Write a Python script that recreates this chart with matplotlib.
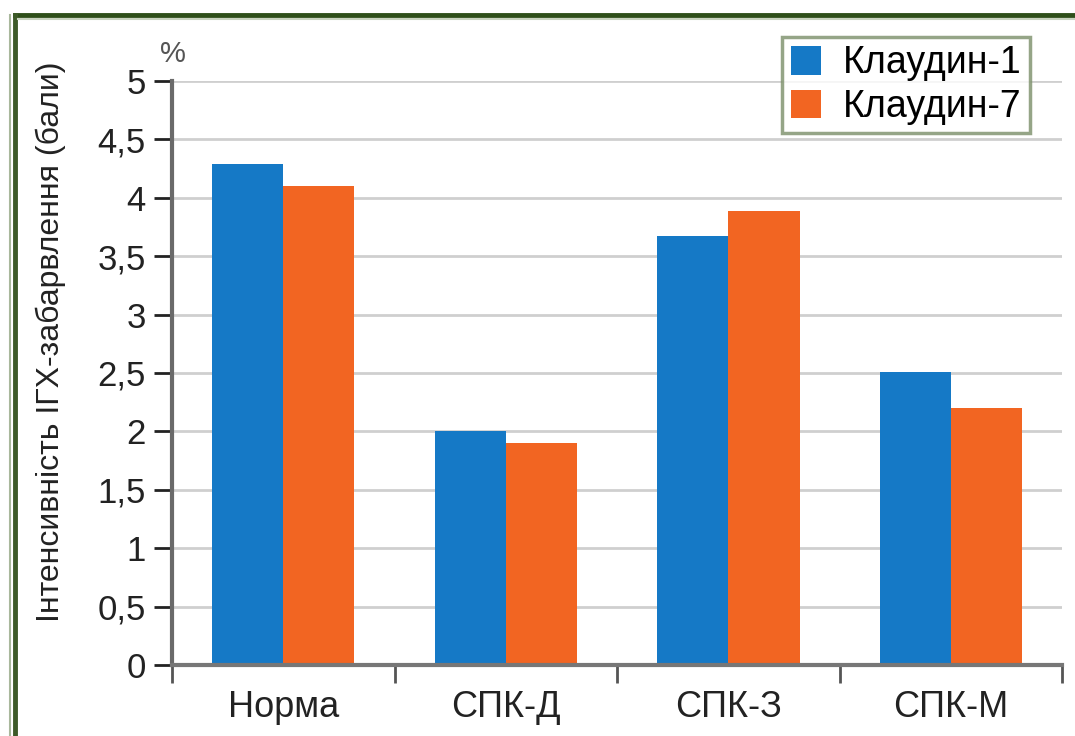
import matplotlib
matplotlib.use("Agg")
import matplotlib.pyplot as plt
import numpy as np
from matplotlib.lines import Line2D

categories = ["Норма", "СПК-Д", "СПК-З", "СПК-М"]
claudin1 = [4.29, 2.0, 3.67, 2.51]
claudin7 = [4.10, 1.90, 3.89, 2.20]
series_names = ["Клаудин-1", "Клаудин-7"]
yticks = [0, 0.5, 1, 1.5, 2, 2.5, 3, 3.5, 4, 4.5, 5]
ytick_labels = ["0", "0,5", "1", "1,5", "2", "2,5", "3", "3,5", "4", "4,5", "5"]

plt.rcParams['font.family'] = ['Liberation Sans', 'DejaVu Sans']

fig = plt.figure(figsize=(10.75, 7.36), dpi=100)
ax = fig.add_axes([0.160, 0.0965, 0.828, 0.7935])

x = np.arange(len(categories))
w = 0.32
blue = "#1579c6"
orange = "#f26522"
ax.bar(x - w/2, claudin1, w, color=blue, label=series_names[0], zorder=3)
ax.bar(x + w/2, claudin7, w, color=orange, label=series_names[1], zorder=3)

ax.set_xlim(-0.5, len(categories) - 0.5)
ax.set_ylim(0, 5)
ax.set_yticks(yticks)
ax.set_yticklabels(ytick_labels, fontsize=25, color="#222222")
ax.yaxis.grid(True, color="#cfcfcf", linewidth=2, zorder=0)
ax.set_axisbelow(True)

ax.set_xticks(x)
ax.set_xticklabels(categories, fontsize=26, color="#222222")
ax.tick_params(axis='x', length=0, pad=18)
ax.set_xticks(np.arange(-0.5, len(categories), 1), minor=True)
ax.tick_params(axis='x', which='minor', length=13, width=2, color="#555555", direction='out')
ax.tick_params(axis='y', length=13, width=2, color="#222222", pad=6)

for s in ["top", "right"]:
    ax.spines[s].set_visible(False)
ax.spines["left"].set_color("#6a6a6a")
ax.spines["left"].set_linewidth(3)
ax.spines["bottom"].set_color("#777777")
ax.spines["bottom"].set_linewidth(3)
ax.spines["bottom"].set_zorder(4)

fig.text(0.0474, 0.535, "Інтенсивність ІГХ-забарвлення (бали)", fontsize=23,
         color="#222222", rotation=90, ha="center", va="center")
fig.text(0.161, 0.927, "%", fontsize=21, color="#555555", ha="center", va="center")

leg = ax.legend(loc="upper right", bbox_to_anchor=(0.964, 1.075), borderaxespad=0,
                fontsize=27, frameon=True, fancybox=False, handlelength=0.8,
                handleheight=0.8, borderpad=0.22, labelspacing=0.2, handletextpad=0.6)
leg.get_frame().set_edgecolor("#7b8f69")
leg.get_frame().set_linewidth(2.5)
leg.set_zorder(5)

# outer green frame (top and left)
fig.add_artist(Line2D([0.0135, 1.0], [0.980, 0.980], transform=fig.transFigure, color="#2f4f1a", linewidth=3.5))
fig.add_artist(Line2D([0.0135, 0.0135], [0.0, 0.980], transform=fig.transFigure, color="#3d5a28", linewidth=3.5))
fig.add_artist(Line2D([0.017, 1.0], [0.974, 0.974], transform=fig.transFigure, color="#c9d3c0", linewidth=1.5))
fig.add_artist(Line2D([0.0095, 0.0095], [0.0, 0.98], transform=fig.transFigure, color="#a9b89c", linewidth=1.5))

fig.savefig("out.png", dpi=100)
